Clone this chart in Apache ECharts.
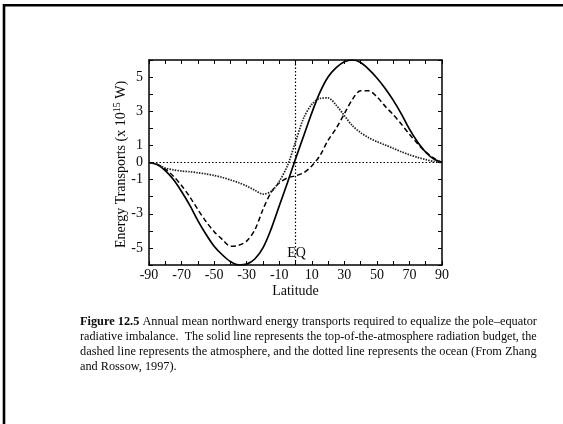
<!DOCTYPE html>
<html><head><meta charset="utf-8">
<script src="https://cdn.jsdelivr.net/npm/echarts@6/dist/echarts.min.js"></script>
<style>html,body{margin:0;padding:0;background:#fff}#c{width:563px;height:424px}</style>
</head><body><div id="c"></div>
<script>
const latitudes = [-90,-85,-80,-75,-70,-65,-60,-55,-50,-45,-40,-35,-30,-25,-20,-15,-10,-5,0,5,10,15,20,25,30,35,40,45,50,55,60,65,70,75,80,85,90];
const toaTransport = [0,-0.12,-0.48,-1.0,-1.7,-2.5,-3.4,-4.2,-4.9,-5.4,-5.8,-6.0,-5.95,-5.65,-5.0,-3.9,-2.55,-1.2,0.2,1.55,2.9,4.1,5.0,5.55,5.9,6.0,5.85,5.45,4.95,4.35,3.65,2.85,1.95,1.2,0.6,0.2,0];
const atmosphereTransport = [0,-0.1,-0.38,-0.8,-1.35,-2.0,-2.75,-3.45,-4.05,-4.5,-4.9,-4.85,-4.6,-3.95,-2.75,-1.75,-1.2,-0.9,-0.78,-0.6,-0.2,0.4,1.3,2.0,2.85,3.7,4.2,4.2,3.85,3.3,2.8,2.25,1.65,1.1,0.62,0.25,0];
const oceanTransport = [0,-0.12,-0.33,-0.43,-0.5,-0.54,-0.6,-0.67,-0.76,-0.87,-1.02,-1.18,-1.38,-1.62,-1.85,-1.7,-1.1,-0.2,1.2,2.6,3.4,3.75,3.78,3.35,2.75,2.15,1.75,1.45,1.22,1.03,0.83,0.63,0.45,0.3,0.17,0.06,0];
const xTickLabels = [-90,-70,-50,-30,-10,10,30,50,70,90];
const yTickLabels = [-5,-3,-1,0,1,3,5];
const xTitle = 'Latitude';
const yTitleParts = ['Energy Transports (x 10', '15', ' W)'];
const eqLabel = 'EQ';
const captionLines = [
  ['Figure 12.5', ' Annual mean northward energy transports required to equalize the pole\u2013equator'],
  ['', 'radiative imbalance.  The solid line represents the top-of-the-atmosphere radiation budget, the'],
  ['', 'dashed line represents the atmosphere, and the dotted line represents the ocean (From Zhang'],
  ['', 'and Rossow, 1997).']
];

const FONT = '"Liberation Serif","Times New Roman",serif';
const INK = '#0a0a0a';
const chart = echarts.init(document.getElementById('c'), null, {renderer: 'canvas'});
const pair = arr => latitudes.map((x, i) => [x, arr[i]]);

const baseX = {
  type: 'value', min: -90, max: 90, interval: 10,
  axisLine: {show: true, onZero: false, lineStyle: {color: '#000', width: 1.5}},
  axisTick: {show: true, inside: true, length: 4, lineStyle: {color: '#000', width: 1}},
  splitLine: {show: false}
};
const baseY = {
  type: 'value', min: -6, max: 6, interval: 1,
  axisLine: {show: true, onZero: false, lineStyle: {color: '#000', width: 1.5}},
  axisTick: {show: true, inside: true, length: 4, lineStyle: {color: '#000', width: 1}},
  splitLine: {show: false}
};

const option = {
  backgroundColor: '#fff',
  animation: false,
  grid: {left: 149, right: 121, top: 60, bottom: 159},
  xAxis: [
    Object.assign({}, baseX, {
      position: 'bottom',
      name: xTitle, nameLocation: 'middle', nameGap: 19,
      nameTextStyle: {fontFamily: FONT, fontSize: 14, color: INK},
      axisLabel: {
        margin: 3, fontFamily: FONT, fontSize: 14, color: INK,
        formatter: v => xTickLabels.includes(v) ? String(v) : ''
      }
    }),
    Object.assign({}, baseX, {position: 'top', axisLabel: {show: false}})
  ],
  yAxis: [
    Object.assign({}, baseY, {
      position: 'left',
      axisLabel: {
        margin: 6, fontFamily: FONT, fontSize: 14, color: INK,
        formatter: v => yTickLabels.includes(v) ? String(v) : ''
      }
    }),
    Object.assign({}, baseY, {position: 'right', axisLabel: {show: false}})
  ],
  series: [
    {
      type: 'line', name: 'Top of atmosphere', data: pair(toaTransport),
      smooth: 0.3, symbol: 'none', clip: true,
      lineStyle: {color: '#000', width: 1.7, type: 'solid'},
      markLine: {
        silent: true, symbol: 'none', label: {show: false},
        lineStyle: {color: '#000', width: 1.2, type: [1.5, 2]},
        data: [{yAxis: 0}, {xAxis: 0}]
      },
      z: 3
    },
    {
      type: 'line', name: 'Atmosphere', data: pair(atmosphereTransport),
      smooth: 0.3, symbol: 'none', clip: true,
      lineStyle: {color: '#000', width: 1.5, type: [5, 3]}
    },
    {
      type: 'line', name: 'Ocean', data: pair(oceanTransport),
      smooth: 0.3, symbol: 'none', clip: true,
      lineStyle: {color: '#222', width: 1.7, type: [1.5, 1.2]}
    }
  ]
};
chart.setOption(option);

const cv = document.createElement('canvas').getContext('2d');
function measure(txt, bold, fs) {
  cv.font = (bold ? 'bold ' : '') + fs + 'px ' + FONT;
  return cv.measureText(txt).width;
}
const capLeft = 80, capWidth = 457, capBase = 12;
const capTops = [322, 337, 352, 367];
const sizes = captionLines.map((ln, i) => {
  if (i === captionLines.length - 1) return null;
  const w = measure(ln[0], true, capBase) + measure(ln[1], false, capBase);
  return capBase * capWidth / w;
});
const valid = sizes.filter(s => s);
const avg = valid.reduce((a, b) => a + b, 0) / valid.length;

const eqPt = chart.convertToPixel({xAxisIndex: 0, yAxisIndex: 0}, [0, -6]);
const midPt = chart.convertToPixel({xAxisIndex: 0, yAxisIndex: 0}, [-90, 0]);
const graphics = [
  {type: 'line', shape: {x1: 4, y1: 5.3, x2: 563, y2: 5.3}, style: {stroke: '#000', lineWidth: 2.6}},
  {type: 'line', shape: {x1: 4, y1: 4, x2: 4, y2: 424}, style: {stroke: '#000', lineWidth: 2.6}},
  {type: 'text', x: eqPt[0] + 1, y: eqPt[1] - 12,
   style: {text: eqLabel, font: '14px ' + FONT, fill: INK, align: 'center', verticalAlign: 'middle'}},
  {type: 'text', x: midPt[0] - 28, y: midPt[1] + 2, rotation: Math.PI / 2,
   style: {
     text: '{t|' + yTitleParts[0] + '}{s|' + yTitleParts[1] + '}{t|' + yTitleParts[2] + '}',
     rich: {
       t: {fontFamily: FONT, fontSize: 14, fill: INK},
       s: {fontFamily: FONT, fontSize: 10, fill: INK, padding: [0, 0, 7, 0]}
     },
     fontFamily: FONT, fontSize: 14, fill: INK, align: 'center', verticalAlign: 'middle'
   }}
];
captionLines.forEach((ln, i) => {
  const fs = sizes[i] || avg;
  graphics.push({
    type: 'text', x: capLeft, y: capTops[i],
    style: {
      text: (ln[0] ? '{b|' + ln[0] + '}' : '') + '{n|' + ln[1] + '}',
      rich: {
        b: {fontFamily: FONT, fontSize: fs, fontWeight: 'bold', fill: INK},
        n: {fontFamily: FONT, fontSize: fs, fill: INK}
      },
      fontFamily: FONT, fontSize: fs, fill: INK,
      align: 'left', verticalAlign: 'middle'
    }
  });
});
chart.setOption({graphic: graphics});
</script></body></html>
